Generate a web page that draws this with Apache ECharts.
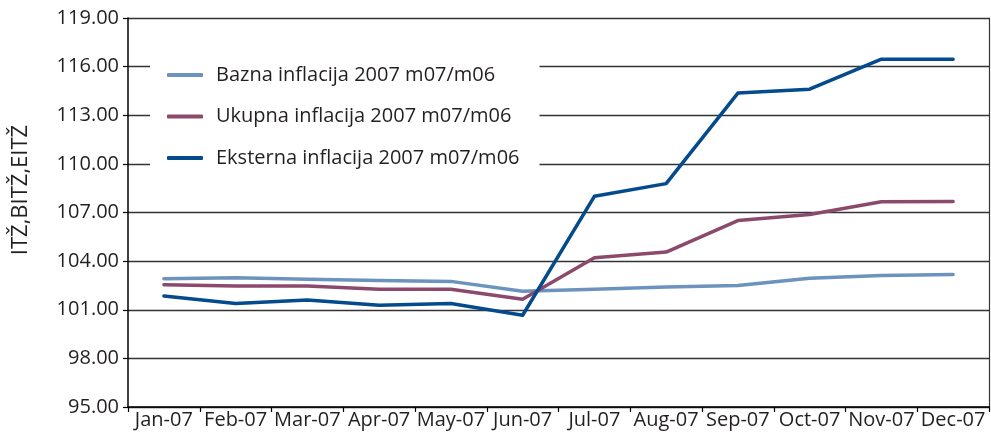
<!DOCTYPE html>
<html>
<head>
<meta charset="utf-8">
<script src="https://cdn.jsdelivr.net/npm/echarts@6/dist/echarts.min.js"></script>
<style>html,body{margin:0;padding:0;background:#fff}#c{width:991px;height:436px}</style>
</head>
<body>
<div id="c"></div>
<script>
var categories = ['Jan-07','Feb-07','Mar-07','Apr-07','May-07','Jun-07','Jul-07','Aug-07','Sep-07','Oct-07','Nov-07','Dec-07'];
var bazna = [102.92,102.98,102.88,102.80,102.75,102.14,102.26,102.40,102.50,102.94,103.12,103.17];
var ukupna = [102.55,102.47,102.47,102.26,102.26,101.65,104.21,104.56,106.50,106.88,107.66,107.68];
var eksterna = [101.85,101.38,101.60,101.28,101.38,100.66,108.00,108.78,114.37,114.61,116.46,116.46];
var seriesNames = ['Bazna inflacija 2007 m07/m06','Ukupna inflacija 2007 m07/m06','Eksterna inflacija 2007 m07/m06'];
var yAxisName = 'ITŽ,BITŽ,EITŽ';

var FONT = 'Open Sans';
var txt = '#231f20';
var chart = echarts.init(document.getElementById('c'), null, {renderer:'canvas'});
function s(name, data, color, z){
  return {name:name, type:'line', data:data, symbol:'none', z:z,
    lineStyle:{color:color, width:3.5, cap:'round', join:'round'}, itemStyle:{color:color}};
}
chart.setOption({
  animation:false,
  grid:{left:128, right:2, top:18, bottom:29, containLabel:false},
  legend:{orient:'vertical', left:150, top:51, padding:[14,20,14,17], backgroundColor:'#fff',
    icon:'roundRect', itemWidth:36, itemHeight:4, itemGap:21.5, z:10,
    textStyle:{fontFamily:FONT, fontSize:20, color:txt, padding:[0,0,0,8]},
    data:seriesNames},
  xAxis:{type:'category', data:categories, boundaryGap:true,
    axisLine:{lineStyle:{color:'#000', width:1.5}},
    axisTick:{show:true, length:5, lineStyle:{color:'#000', width:1.2}},
    axisLabel:{fontFamily:FONT, fontSize:20, color:txt, margin:3, interval:0}},
  yAxis:[{type:'value', min:95, max:119, interval:3,
    axisLine:{show:true, lineStyle:{color:'#000', width:1.5}},
    axisTick:{show:true, length:5, lineStyle:{color:'#000', width:1.2}},
    axisLabel:{fontFamily:FONT, fontSize:20, color:txt, margin:9, formatter:function(v){return v.toFixed(2);}},
    splitLine:{show:true, lineStyle:{color:'#333', width:1.4}}},
   {type:'value', min:95, max:119, interval:3, position:'right',
    axisLine:{show:true, lineStyle:{color:'#333', width:1.2}},
    axisTick:{show:false}, axisLabel:{show:false}, splitLine:{show:false}}],
  graphic:[{type:'text', x:21, y:190, rotation:Math.PI/2,
    style:{text:yAxisName, fontFamily:FONT, fontSize:22, fill:txt, textAlign:'center', textVerticalAlign:'middle'}}],
  series:[s(seriesNames[0], bazna, '#6b93bd', 2), s(seriesNames[1], ukupna, '#8b4a6c', 3), s(seriesNames[2], eksterna, '#044a8c', 4)]
});
</script>
</body>
</html>
